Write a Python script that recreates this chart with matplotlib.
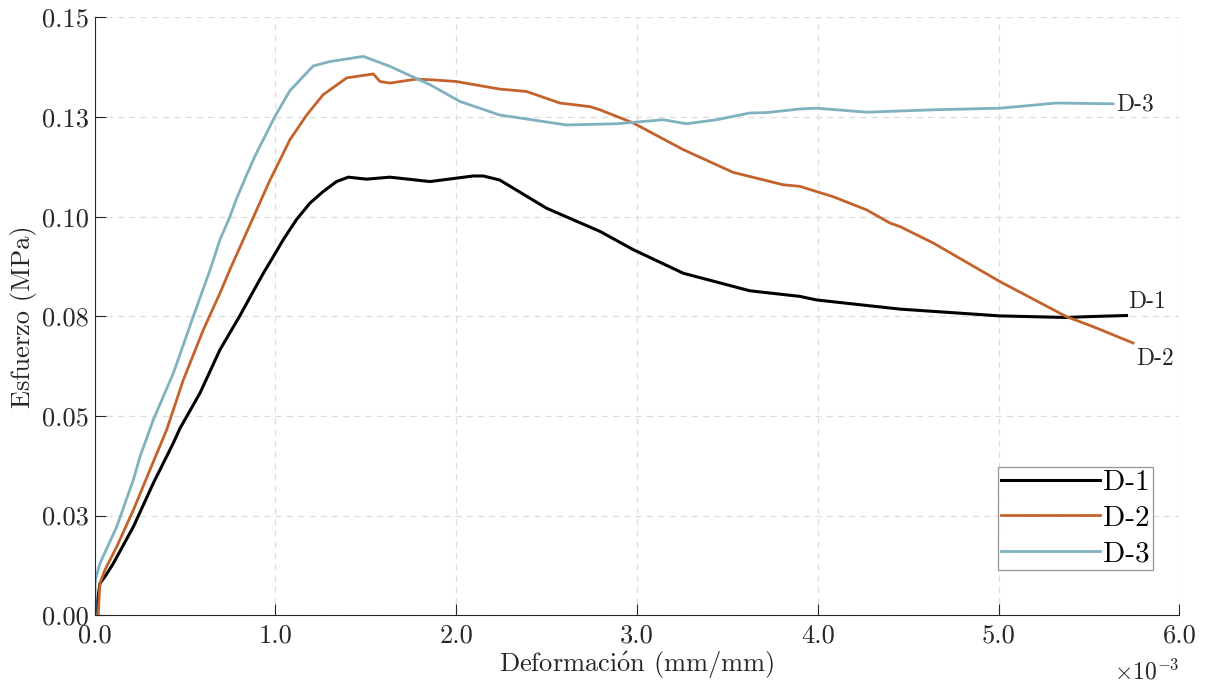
import matplotlib
matplotlib.use("Agg")
import matplotlib.pyplot as plt
from matplotlib.ticker import FuncFormatter

plt.rcParams['font.family'] = ['cmr10', 'DejaVu Serif']
plt.rcParams['mathtext.fontset'] = 'cm'
plt.rcParams['axes.formatter.use_mathtext'] = True

# strain in units of 1e-3 mm/mm, stress in MPa
strain_d1 = [0.0, 0.011, 0.029, 0.057, 0.103, 0.214, 0.324, 0.435, 0.472, 0.582, 0.693,
             0.804, 0.868, 0.933, 0.999, 1.043, 1.117, 1.191, 1.264, 1.338, 1.403,
             1.504, 1.633, 1.855, 2.094, 2.149, 2.24, 2.5, 2.795, 2.98, 3.256, 3.624,
             3.9, 3.993, 4.455, 5.007, 5.376, 5.486, 5.708]
stress_d1 = [0.0, 0.0018, 0.008, 0.0097, 0.013, 0.0222, 0.0331, 0.0432, 0.0469, 0.0557,
             0.0666, 0.0752, 0.0805, 0.0858, 0.0908, 0.0942, 0.0993, 0.1034, 0.1063,
             0.1088, 0.1099, 0.1094, 0.1099, 0.1088, 0.1102, 0.1102, 0.1092, 0.1021,
             0.0963, 0.0917, 0.0858, 0.0814, 0.08, 0.0791, 0.0768, 0.0751, 0.0747,
             0.0749, 0.0752]

strain_d2 = [0.02, 0.024, 0.029, 0.057, 0.122, 0.214, 0.306, 0.398, 0.49, 0.601, 0.693,
             0.748, 0.822, 0.896, 0.97, 1.025, 1.08, 1.173, 1.264, 1.394, 1.541, 1.578,
             1.633, 1.78, 1.873, 2.0, 2.24, 2.389, 2.573, 2.739, 2.795, 2.979, 3.256,
             3.532, 3.808, 3.9, 4.085, 4.27, 4.399, 4.455, 4.602, 4.638, 5.008, 5.376,
             5.523, 5.744]
stress_d2 = [0.0, 0.004, 0.008, 0.0114, 0.0172, 0.0264, 0.0365, 0.0465, 0.059, 0.0716,
             0.0808, 0.0867, 0.0942, 0.1017, 0.1092, 0.1142, 0.1193, 0.1255, 0.1306,
             0.1348, 0.1358, 0.1339, 0.1335, 0.1345, 0.1343, 0.1339, 0.132, 0.1314,
             0.1285, 0.1276, 0.1268, 0.1235, 0.1168, 0.1111, 0.108, 0.1076, 0.105,
             0.1017, 0.0984, 0.0975, 0.0942, 0.0934, 0.0837, 0.0749, 0.0724, 0.0683]

strain_d3 = [0.002, 0.002, 0.011, 0.029, 0.122, 0.214, 0.251, 0.324, 0.435, 0.545, 0.638,
             0.693, 0.748, 0.785, 0.841, 0.887, 0.999, 1.08, 1.209, 1.301, 1.486, 1.633,
             1.855, 2.02, 2.24, 2.61, 2.887, 3.145, 3.274, 3.44, 3.624, 3.717, 3.9,
             3.993, 4.27, 4.638, 5.008, 5.32, 5.633]
stress_d3 = [0.0, 0.008, 0.0101, 0.013, 0.0222, 0.034, 0.0398, 0.049, 0.0607, 0.0749,
             0.0866, 0.0942, 0.1, 0.1045, 0.1105, 0.1152, 0.1253, 0.1316, 0.1378,
             0.1389, 0.1402, 0.1377, 0.1331, 0.1289, 0.1255, 0.123, 0.1233, 0.1243,
             0.1233, 0.1243, 0.126, 0.1261, 0.127, 0.1272, 0.1262, 0.1268, 0.1272,
             0.1285, 0.1283]

series = [
    ('D-1', strain_d1, stress_d1, '#000000'),
    ('D-2', strain_d2, stress_d2, '#c4622c'),
    ('D-3', strain_d3, stress_d3, '#7fb2be'),
]

y_ticks = [0.0, 0.025, 0.05, 0.075, 0.1, 0.125, 0.15]
y_tick_labels = ['0.00', '0.03', '0.05', '0.08', '0.10', '0.13', '0.15']
x_ticks = [0.0, 1.0, 2.0, 3.0, 4.0, 5.0, 6.0]

# end labels next to each curve: (dx in 1e-3, dy in MPa)
end_offsets = {'D-1': (0.01, 0.0033), 'D-2': (0.015, -0.004), 'D-3': (0.02, -0.0002)}

fig = plt.figure(figsize=(12.06, 6.87), dpi=100)
ax = fig.add_axes([0.0785, 0.1044, 0.8994, 0.8704])

for name, sx, sy, col in series:
    xs = [v * 1e-3 for v in sx]
    lw = 2.2 if name == 'D-1' else 2.0
    ax.plot(xs, sy, color=col, lw=lw, label=name, solid_joinstyle='round')
    dx, dy = end_offsets[name]
    ax.text(xs[-1] + dx * 1e-3, sy[-1] + dy, name, fontsize=17,
            va='center', ha='left', color='#262626')

ax.set_xlim(0, 6e-3)
ax.set_ylim(0, 0.15)
ax.set_xticks([t * 1e-3 for t in x_ticks])
ax.xaxis.set_major_formatter(FuncFormatter(lambda v, _: f'{v * 1e3:.1f}'))
ax.set_yticks(y_ticks)
ax.set_yticklabels(y_tick_labels)

for s in ['top', 'right']:
    ax.spines[s].set_visible(False)
for s in ['left', 'bottom']:
    ax.spines[s].set_color('#262626')
    ax.spines[s].set_linewidth(0.8)

ax.tick_params(direction='in', length=8, width=0.8, colors='#262626',
               labelsize=19, top=False, right=False)
ax.tick_params(axis='y', pad=4)
ax.tick_params(axis='x', pad=6)
ax.grid(True, color='#dddddd', linestyle=(0, (5, 4)), linewidth=0.9)
ax.set_axisbelow(True)

ax.set_xlabel(r'Deformaci$\acute{\mathrm{o}}$n (mm/mm)', fontsize=19,
              color='#262626', labelpad=2)
ax.set_ylabel('Esfuerzo (MPa)', fontsize=19, color='#262626', labelpad=4)
ax.text(1.0, -0.095, r'$\times10^{-3}$', transform=ax.transAxes, fontsize=17,
        ha='right', va='center', color='#262626')

leg = ax.legend(loc='lower right', bbox_to_anchor=(0.9755, 0.0758), fontsize=21,
                frameon=True, fancybox=False, borderaxespad=0, borderpad=0.1,
                handlelength=3.4, handletextpad=0.1, labelspacing=0.31)
leg.get_frame().set_edgecolor('#7f7f7f')
leg.get_frame().set_linewidth(0.9)

fig.savefig('out.png', dpi=100)
